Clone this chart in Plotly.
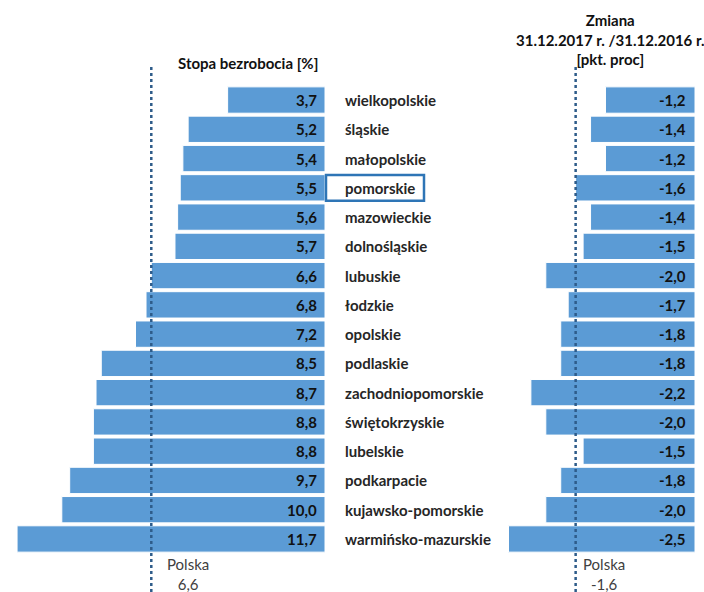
import plotly.graph_objects as go

regions = ["wielkopolskie", "śląskie", "małopolskie", "pomorskie", "mazowieckie",
           "dolnośląskie", "lubuskie", "łodzkie", "opolskie", "podlaskie",
           "zachodniopomorskie", "świętokrzyskie", "lubelskie", "podkarpacie",
           "kujawsko-pomorskie", "warmińsko-mazurskie"]
rate = [3.7, 5.2, 5.4, 5.5, 5.6, 5.7, 6.6, 6.8, 7.2, 8.5, 8.7, 8.8, 8.8, 9.7, 10.0, 11.7]
change = [-1.2, -1.4, -1.2, -1.6, -1.4, -1.5, -2.0, -1.7, -1.8, -1.8, -2.2, -2.0, -1.5, -1.8, -2.0, -2.5]
polska_rate = 6.6
polska_change = -1.6
highlight = "pomorskie"

W, H = 704, 592
BLUE = "#5B9BD5"
DOT = "#2E5C8A"
FONT = "Lato"

def fmt(v):
    return f"{v:.1f}".replace(".", ",")

fig = go.Figure()
fig.add_trace(go.Bar(y=regions, x=rate, orientation="h", xaxis="x", yaxis="y",
                     marker=dict(color=BLUE, line=dict(color="white", width=1)),
                     hoverinfo="skip", showlegend=False))
fig.add_trace(go.Bar(y=regions, x=change, orientation="h", xaxis="x2", yaxis="y",
                     marker=dict(color=BLUE, line=dict(color="white", width=1)),
                     hoverinfo="skip", showlegend=False))

ann = []
for r, v, c in zip(regions, rate, change):
    ann.append(dict(x=0, y=r, xref="x", yref="y", text=fmt(v), showarrow=False,
                    xanchor="right", xshift=-6,
                    font=dict(family=FONT, size=15, color="#111111", weight="bold")))
    ann.append(dict(x=0, y=r, xref="x2", yref="y", text=fmt(c), showarrow=False,
                    xanchor="right", xshift=-7,
                    font=dict(family=FONT, size=15, color="#111111", weight="bold")))
    ann.append(dict(x=343 / W, y=r, xref="paper", yref="y", text=r, showarrow=False,
                    xanchor="left",
                    font=dict(family=FONT, size=15, color="#262626", weight="bold")))

ann += [
    dict(x=248 / W, y=1 - 63 / H, xref="paper", yref="paper", text="Stopa bezrobocia [%]",
         showarrow=False, xanchor="center", yanchor="middle",
         font=dict(family=FONT, size=15, color="#111111", weight="bold")),
    dict(x=610 / W, y=1 - 39 / H, xref="paper", yref="paper",
         text="Zmiana<br>31.12.2017 r. /31.12.2016 r.<br>[pkt. proc]",
         showarrow=False, xanchor="center", yanchor="middle",
         font=dict(family=FONT, size=15, color="#111111", weight="bold")),
    dict(x=polska_rate, y=1 - 574 / H, xref="x", yref="paper", text=f"Polska<br>{fmt(polska_rate)}",
         showarrow=False, xanchor="center", xshift=37, yanchor="middle",
         font=dict(family=FONT, size=15, color="#404040")),
    dict(x=polska_change, y=1 - 574 / H, xref="x2", yref="paper", text=f"Polska<br>{fmt(polska_change)}",
         showarrow=False, xanchor="center", xshift=28, yanchor="middle",
         font=dict(family=FONT, size=15, color="#404040")),
]

shapes = [
    dict(type="line", xref="x", yref="paper", x0=polska_rate, x1=polska_rate,
         y0=0, y1=1 - 65 / H, line=dict(color=DOT, width=2.5, dash="dot")),
    dict(type="line", xref="x2", yref="paper", x0=polska_change, x1=polska_change,
         y0=0, y1=1 - 64 / H, line=dict(color=DOT, width=2.5, dash="dot")),
]
hi = regions.index(highlight)
shapes.append(dict(type="rect", xref="paper", yref="y", x0=326 / W, x1=424 / W,
                   y0=hi - 0.44, y1=hi + 0.44, line=dict(color="#2E75B6", width=2.5),
                   fillcolor="rgba(0,0,0,0)"))

left_px0 = 325 / 26.32
right_scale = 74.6
fig.update_layout(
    width=W, height=H, margin=dict(l=0, r=0, t=0, b=0),
    plot_bgcolor="white", paper_bgcolor="white",
    bargap=0.1, barmode="overlay",
    xaxis=dict(domain=[0, 325 / W], range=[left_px0, 0], visible=False, fixedrange=True),
    xaxis2=dict(domain=[500 / W, 695 / W], range=[-195 / right_scale, 0], visible=False,
                anchor="y", fixedrange=True),
    yaxis=dict(domain=[1 - 553.6 / H, 1 - 85.4 / H], autorange="reversed", visible=False,
               categoryorder="array", categoryarray=regions),
    annotations=ann, shapes=shapes,
)
fig.write_html("out.html", config={"displayModeBar": False},
               post_script="document.body.style.margin='0px';")
